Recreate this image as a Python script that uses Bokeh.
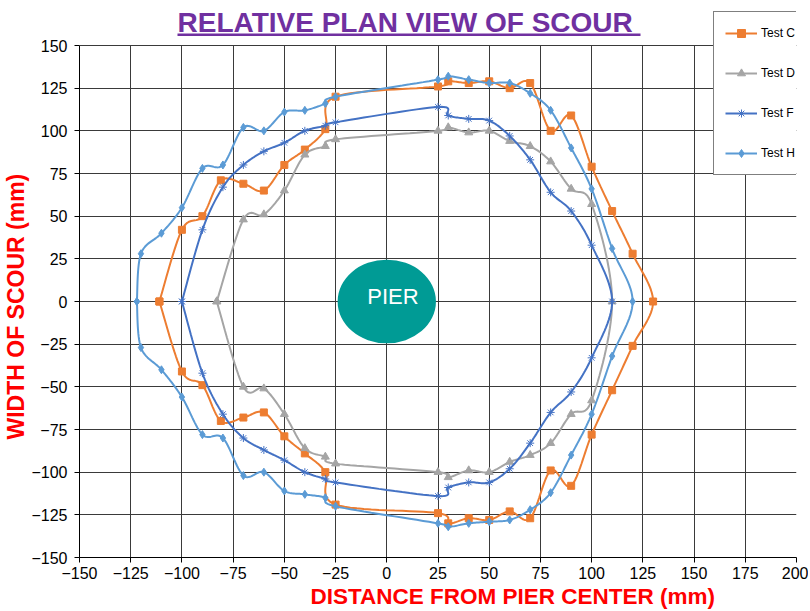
import numpy as np
from bokeh.plotting import figure
from bokeh.models import (Range1d, SingleIntervalTicker, Legend, LegendItem, Title,
                          BoxAnnotation, Label)
from bokeh.core.properties import value
from bokeh.embed import file_html
from bokeh.resources import INLINE

# ---------------- data (mm) ----------------
test_c_x = [-111, -100, -90, -81, -70, -60, -50, -40, -30, -25, 25, 30, 40, 50, 60, 70, 80, 90, 100, 110, 120, 130,
            120, 110, 100, 90, 80, 70, 60, 50, 40, 30, 25, -25, -30, -40, -50, -60, -70, -81, -90, -100, -111]
test_c_y = [0, 42, 50, 71, 69, 65, 80, 89, 101, 120, 126, 129, 128, 129, 125, 128, 100, 109, 79, 53, 28, 0,
            -26, -52, -78, -108, -99, -127, -123, -128, -127, -130, -124, -119, -100, -89, -79, -65, -68, -70, -49, -41, 0]

test_d_x = [-83, -70, -60, -50, -40, -30, -25, 25, 30, 40, 50, 60, 70, 80, 90, 100, 110,
            100, 90, 80, 70, 60, 50, 40, 30, 25, -25, -30, -40, -50, -60, -70, -83]
test_d_y = [0, 48, 51, 65, 86, 91, 95, 100, 102, 99, 100, 94, 91, 82, 66, 57, 0,
            -58, -66, -83, -90, -94, -100, -99, -103, -100, -95, -91, -86, -66, -51, -50, 0]

test_f_x = [-100, -90, -80, -70, -60, -50, -40, -30, -25, 25, 30, 40, 50, 60, 70, 80, 90, 100, 110,
            100, 90, 80, 70, 60, 50, 40, 30, 25, -25, -30, -40, -50, -60, -70, -80, -90, -100]
test_f_y = [0, 42, 67, 80, 88, 93, 100, 103, 105, 114, 109, 107, 106, 97, 83, 64, 53, 33, 0,
            -33, -53, -65, -83, -98, -106, -106, -109, -114, -106, -104, -100, -93, -87, -80, -66, -42, 0]

test_h_x = [-122, -120, -110, -100, -90, -80, -70, -60, -50, -40, -30, -25, 25, 30, 40, 50, 60, 70, 80, 90, 100, 110, 120,
            110, 100, 90, 80, 70, 60, 50, 40, 30, 25, -25, -30, -40, -50, -60, -70, -80, -90, -100, -110, -120, -122]
test_h_y = [0, 28, 40, 55, 78, 80, 102, 100, 111, 112, 116, 120, 130, 132, 130, 128, 128, 122, 112, 90, 66, 31, 0,
            -32, -66, -90, -112, -122, -128, -129, -130, -132, -130, -120, -115, -113, -111, -100, -102, -80, -78, -56, -40, -27, 0]

series_names = ["Test C", "Test D", "Test F", "Test H"]
pier_label = "PIER"
title_text = "RELATIVE PLAN VIEW OF SCOUR"
x_label = "DISTANCE FROM PIER CENTER (mm)"
y_label = "WIDTH OF SCOUR (mm)"

X_MIN, X_MAX = -150, 200
Y_MIN, Y_MAX = -150, 150
TICK_STEP = 25


def smooth(xs, ys, n=16, t=1.0 / 6.0):
    """Excel-like smoothed line through the data points (cubic Bezier / Catmull-Rom)."""
    pts = np.column_stack([xs, ys]).astype(float)
    m = len(pts)
    out = [pts[0]]
    s = np.linspace(0, 1, n + 1)[1:, None]
    for i in range(m - 1):
        p0 = pts[i - 1] if i > 0 else pts[i]
        p1 = pts[i]
        p2 = pts[i + 1]
        p3 = pts[i + 2] if i + 2 < m else pts[i + 1]
        c1 = p1 + (p2 - p0) * t
        c2 = p2 - (p3 - p1) * t
        b = (1 - s) ** 3 * p1 + 3 * (1 - s) ** 2 * s * c1 + 3 * (1 - s) * s ** 2 * c2 + s ** 3 * p2
        out.extend(b)
    out = np.array(out)
    return out[:, 0], out[:, 1]


FONT = "Liberation Sans"

# layout (pixels)
FRAME_W = 717
FRAME_H = 557          # plot area extends to the top of the canvas (room for title / legend)
PLOT_TOP_PX = 45       # where the value 150 sits
y_top = Y_MAX + PLOT_TOP_PX * (Y_MAX - Y_MIN) / (FRAME_H - PLOT_TOP_PX)

p = figure(frame_width=FRAME_W, frame_height=FRAME_H,
           x_range=Range1d(X_MIN, X_MAX), y_range=Range1d(Y_MIN, y_top),
           output_backend="svg", toolbar_location=None,
           min_border_left=77, min_border_right=12, min_border_top=0, min_border_bottom=52)
p.outline_line_color = None
p.background_fill_color = "white"

# title (inside the extended frame) + underline
p.add_layout(Label(x=98, y=FRAME_H - 22, x_units="screen", y_units="screen", text=title_text,
                   text_font=FONT, text_font_size="28px", text_font_style="bold",
                   text_color="#7030A0", text_baseline="alphabetic", text_align="left"))
p.add_layout(BoxAnnotation(left=98, right=561, bottom=FRAME_H - 35.5, top=FRAME_H - 33,
                           left_units="screen", right_units="screen", top_units="screen", bottom_units="screen",
                           fill_color="#7030A0", fill_alpha=1.0, line_color=None))

# axes
for ax in (p.xaxis[0], p.yaxis[0]):
    ax.ticker = SingleIntervalTicker(interval=TICK_STEP)
    ax.minor_tick_line_color = None
    ax.major_tick_in = 0
    ax.major_tick_out = 5
    ax.major_tick_line_color = "#000000"
    ax.axis_line_color = "#000000"
    ax.major_label_text_font = FONT
    ax.major_label_text_font_size = "16px"
    ax.major_label_text_color = "#000000"
p.yaxis[0].bounds = (Y_MIN, Y_MAX)
p.yaxis[0].major_label_standoff = 7
p.xaxis[0].major_label_standoff = 4

# axis titles
p.add_layout(Title(text=y_label, align="left", offset=118, text_font=FONT, text_font_size="23px",
                   text_font_style="bold", text_color="#FF0000", standoff=0), "left")
p.add_layout(Title(text=x_label, align="left", offset=231, text_font=FONT, text_font_size="22.5px",
                   text_font_style="bold", text_color="#FF0000", standoff=0), "below")

# grid
for g in (p.xgrid[0], p.ygrid[0]):
    g.ticker = SingleIntervalTicker(interval=TICK_STEP)
    g.grid_line_color = "#3a3a3a"
    g.grid_line_width = 1
p.ygrid[0].bounds = (Y_MIN, Y_MAX)
p.xgrid[0].cross_bounds = (Y_MIN, Y_MAX)

# pier
p.ellipse(x=[0], y=[0], width=48, height=49, fill_color="#009B95", line_color=None)
p.text(x=[3], y=[3], text=[pier_label], text_color="white", text_font=value(FONT),
       text_font_size="22px", text_align="center", text_baseline="middle")

styles = [
    ("#ED7D31", "square", 7),
    ("#A5A5A5", "triangle", 8),
    ("#4472C4", "asterisk", 8),
    ("#5B9BD5", "diamond", 8),
]
data = [(test_c_x, test_c_y), (test_d_x, test_d_y), (test_f_x, test_f_y), (test_h_x, test_h_y)]
items = []
for name, (xs, ys), (col, mk, sz) in zip(series_names, data, styles):
    sx, sy = smooth(xs, ys)
    lr = p.line(sx, sy, line_color=col, line_width=2)
    sr = p.scatter(xs, ys, marker=mk, size=sz, fill_color=col, line_color=col, line_width=1)
    items.append(LegendItem(label=name, renderers=[lr, sr]))

legend = Legend(items=items, location=(634, FRAME_H - 175), orientation="vertical",
                padding=11, margin=0, spacing=20, glyph_width=32, glyph_height=20, label_standoff=4,
                label_text_font=FONT, label_text_font_size="12px", label_text_color="#000000",
                border_line_color="#000000", border_line_width=1, background_fill_color="white",
                background_fill_alpha=1.0)
p.add_layout(legend)

open("out.html", "w").write(file_html(p, INLINE))
